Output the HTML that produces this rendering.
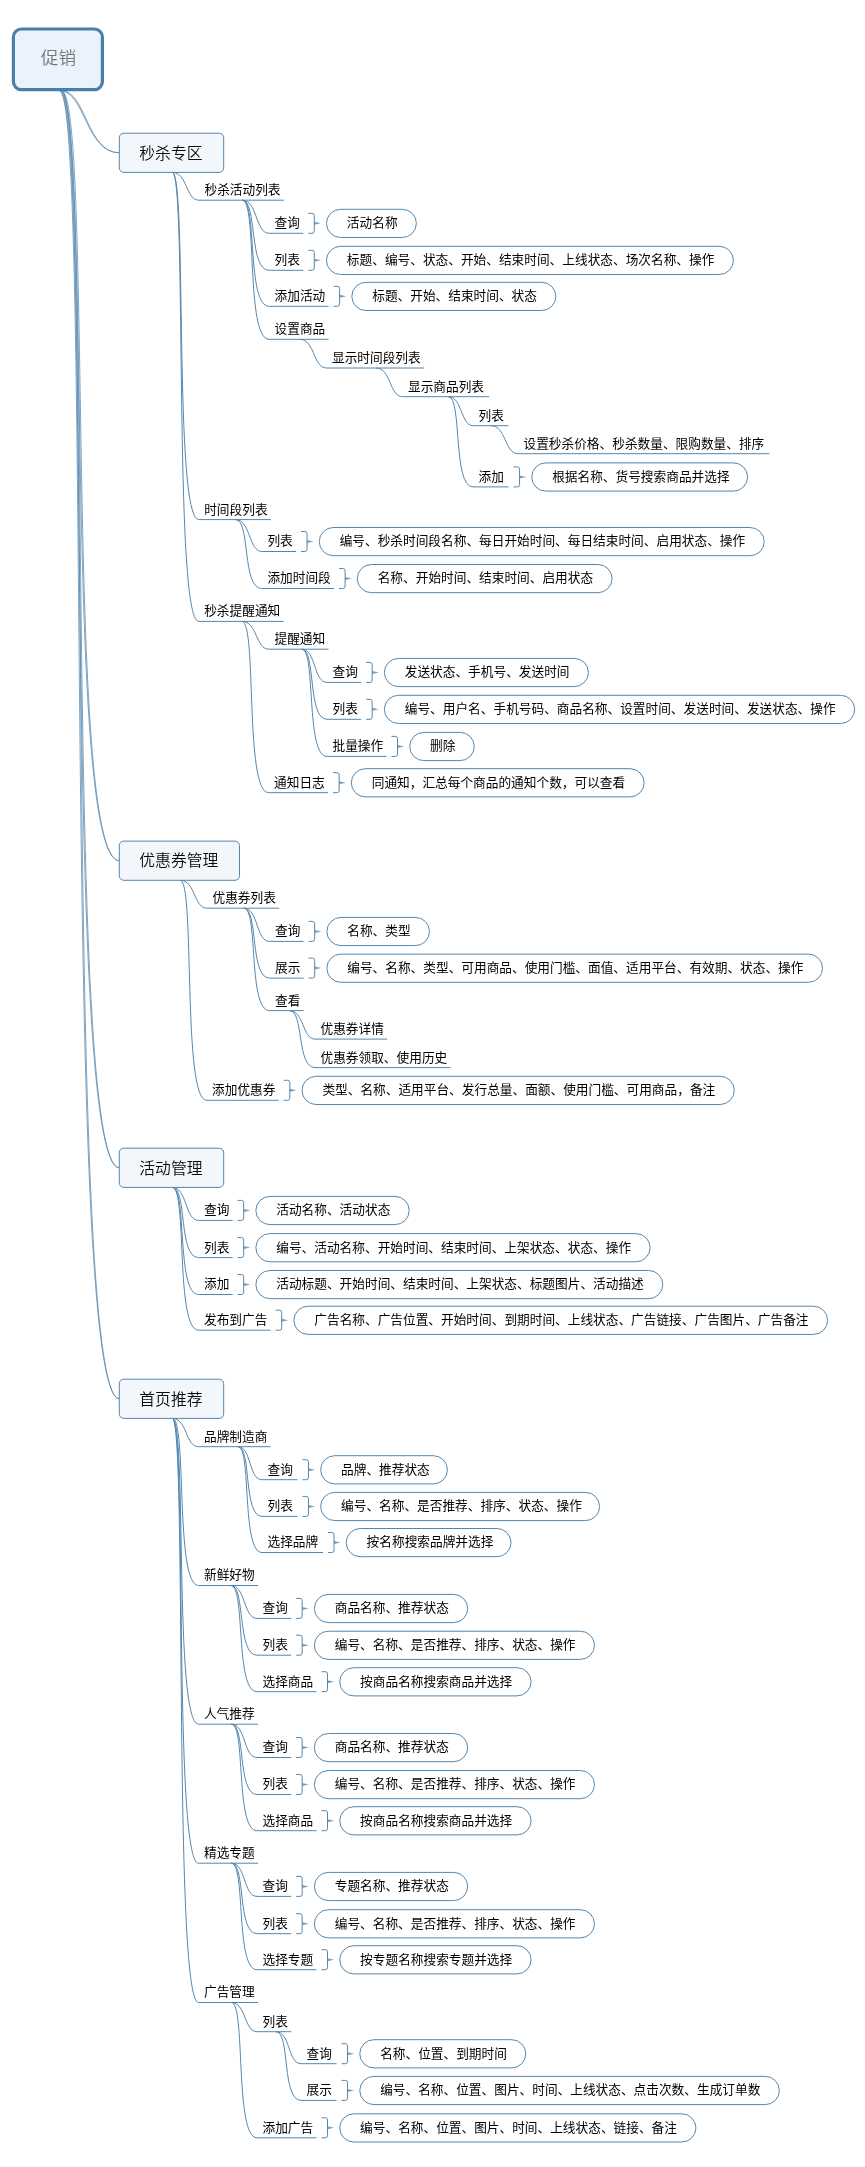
<!DOCTYPE html>
<html lang="zh-CN"><head><meta charset="utf-8"><title>促销</title>
<style>
html,body{margin:0;padding:0;background:#fff}
svg{display:block;will-change:transform}
text{font-family:"Liberation Sans", "Noto Sans CJK SC", sans-serif;font-size:12.68px;fill:#000}
.mt{font-size:15.8px;fill:#0a0a0a;font-weight:350}
.rt{font-size:17.6px;fill:#777;font-weight:350}
.ln{fill:none;stroke:#5486ad;stroke-width:1}
.wd{fill:#5486ad;stroke:none;fill-opacity:.8}
.rl{fill:none;stroke:#5486ad;stroke-width:.75}
.pill{fill:#fff;stroke:#5486ad;stroke-width:1}
.main{fill:#f3f7fc;stroke:#5486ad;stroke-width:1}
.root{fill:#eaf2fc;stroke:#4a7fa9;stroke-width:3.2}
</style></head><body>
<svg width="865" height="2167" viewBox="0 0 865 2167">
<path class="ln" d="M172.3 172.4C187.52 172.4 185.65 200.2 199 200.2H283.88M242.24 200.2C257.55 200.2 255.32 233.3 269.1 233.3H303.26M308.26 213.3H312.06Q314.26 213.3 314.26 215.5V231.1Q314.26 233.3 312.06 233.3H308.26M242.24 200.2C257.55 200.2 248.42 270.3 269.1 270.3H303.26M308.26 250.3H312.06Q314.26 250.3 314.26 252.5V268.1Q314.26 270.3 312.06 270.3H308.26M242.24 200.2C257.55 200.2 246.32 306.3 269.1 306.3H328.62M333.62 286.3H337.42Q339.62 286.3 339.62 288.5V304.1Q339.62 306.3 337.42 306.3H333.62M242.24 200.2C257.55 200.2 245.35 339.3 269.1 339.3H328.62M299.66 339.3C314.96 339.3 313.08 368 326.5 368H424.06M376.08 368C391.14 368 389.29 396.7 402.5 396.7H489.18M448.34 396.7C462.4 396.7 460.67 425.7 473 425.7H508.56M490.88 425.7C506.34 425.7 504.44 453.7 518 453.7H769.32M448.34 396.7C462.4 396.7 452.39 486.9 473 486.9H508.56M513.56 466.9H517.36Q519.56 466.9 519.56 469.1V484.7Q519.56 486.9 517.36 486.9H513.56M172.3 172.4C187.35 172.4 173.5 519.6 198.7 519.6H270.9M235.6 519.6C250.59 519.6 248.61 551.5 261.9 551.5H296.06M301.06 531.5H304.86Q307.06 531.5 307.06 533.7V549.3Q307.06 551.5 304.86 551.5H301.06M235.6 519.6C250.59 519.6 241.62 588.5 261.9 588.5H334.1M339.1 568.5H342.9Q345.1 568.5 345.1 570.7V586.3Q345.1 588.5 342.9 588.5H339.1M172.3 172.4C187.35 172.4 173.23 621.4 198.7 621.4H283.58M241.94 621.4C257.36 621.4 255.47 649.2 269 649.2H328.52M301.76 649.2C316.15 649.2 313.27 682.4 327 682.4H361.16M366.16 662.4H369.96Q372.16 662.4 372.16 664.6V680.2Q372.16 682.4 369.96 682.4H366.16M301.76 649.2C316.15 649.2 307.21 719.3 327 719.3H361.16M366.16 699.3H369.96Q372.16 699.3 372.16 701.5V717.1Q372.16 719.3 369.96 719.3H366.16M301.76 649.2C316.15 649.2 305.33 756.4 327 756.4H386.52M391.52 736.4H395.32Q397.52 736.4 397.52 738.6V754.2Q397.52 756.4 395.32 756.4H391.52M241.94 621.4C257.14 621.4 244.43 792.7 268.6 792.7H328.12M333.12 772.7H336.92Q339.12 772.7 339.12 774.9V790.5Q339.12 792.7 336.92 792.7H333.12M180.2 880.3C195.48 880.3 193.6 908.2 207 908.2H279.2M243.9 908.2C258.49 908.2 255.74 941.4 269.5 941.4H303.66M308.66 921.4H312.46Q314.66 921.4 314.66 923.6V939.2Q314.66 941.4 312.46 941.4H308.66M243.9 908.2C258.49 908.2 249.53 978.1 269.5 978.1H303.66M308.66 958.1H312.46Q314.66 958.1 314.66 960.3V975.9Q314.66 978.1 312.46 978.1H308.66M243.9 908.2C258.49 908.2 247.74 1010.6 269.5 1010.6H303.66M289.58 1010.6C304.07 1010.6 302.29 1039.1 315 1039.1H387.2M289.58 1010.6C304.07 1010.6 296.38 1067.6 315 1067.6H450.6M180.2 880.3C195.25 880.3 182.1 1100.3 206.6 1100.3H278.8M283.8 1080.3H287.6Q289.8 1080.3 289.8 1082.5V1098.1Q289.8 1100.3 287.6 1100.3H283.8M172.3 1187.4C187.23 1187.4 184.78 1220.4 198.5 1220.4H232.66M237.66 1200.4H241.46Q243.66 1200.4 243.66 1202.6V1218.2Q243.66 1220.4 241.46 1220.4H237.66M172.3 1187.4C187.23 1187.4 178.17 1257.6 198.5 1257.6H232.66M237.66 1237.6H241.46Q243.66 1237.6 243.66 1239.8V1255.4Q243.66 1257.6 241.46 1257.6H237.66M172.3 1187.4C187.23 1187.4 176.15 1294.5 198.5 1294.5H232.66M237.66 1274.5H241.46Q243.66 1274.5 243.66 1276.7V1292.3Q243.66 1294.5 241.46 1294.5H237.66M172.3 1187.4C187.23 1187.4 175.18 1330.2 198.5 1330.2H270.7M275.7 1310.2H279.5Q281.7 1310.2 281.7 1312.4V1328Q281.7 1330.2 279.5 1330.2H275.7M172.3 1418.4C187.23 1418.4 185.4 1446.7 198.5 1446.7H270.7M238 1446.7C251.68 1446.7 248.47 1479.7 262 1479.7H297.46M302.46 1459.7H306.26Q308.46 1459.7 308.46 1461.9V1477.5Q308.46 1479.7 306.26 1479.7H302.46M238 1446.7C251.68 1446.7 242.96 1516.4 262 1516.4H297.46M302.46 1496.4H306.26Q308.46 1496.4 308.46 1498.6V1514.2Q308.46 1516.4 306.26 1516.4H302.46M238 1446.7C251.68 1446.7 241.27 1552.5 262 1552.5H323.02M328.02 1532.5H331.82Q334.02 1532.5 334.02 1534.7V1550.3Q334.02 1552.5 331.82 1552.5H328.02M172.3 1418.4C187.23 1418.4 174.76 1585.5 198.5 1585.5H258.02M230.86 1585.5C245.76 1585.5 243.32 1618.4 257 1618.4H291.16M296.16 1598.4H299.96Q302.16 1598.4 302.16 1600.6V1616.2Q302.16 1618.4 299.96 1618.4H296.16M230.86 1585.5C245.76 1585.5 236.74 1655.2 257 1655.2H291.16M296.16 1635.2H299.96Q302.16 1635.2 302.16 1637.4V1653Q302.16 1655.2 299.96 1655.2H296.16M230.86 1585.5C245.76 1585.5 234.72 1691.7 257 1691.7H316.52M321.52 1671.7H325.32Q327.52 1671.7 327.52 1673.9V1689.5Q327.52 1691.7 325.32 1691.7H321.52M172.3 1418.4C187.23 1418.4 173.65 1724.2 198.5 1724.2H258.02M231.36 1724.2C245.97 1724.2 243.21 1757.5 257 1757.5H291.16M296.16 1737.5H299.96Q302.16 1737.5 302.16 1739.7V1755.3Q302.16 1757.5 299.96 1757.5H296.16M231.36 1724.2C245.97 1724.2 236.97 1794.5 257 1794.5H291.16M296.16 1774.5H299.96Q302.16 1774.5 302.16 1776.7V1792.3Q302.16 1794.5 299.96 1794.5H296.16M231.36 1724.2C245.97 1724.2 235.06 1830.7 257 1830.7H316.52M321.52 1810.7H325.32Q327.52 1810.7 327.52 1812.9V1828.5Q327.52 1830.7 325.32 1830.7H321.52M172.3 1418.4C187.23 1418.4 173.23 1863.2 198.5 1863.2H258.02M231.36 1863.2C245.97 1863.2 243.24 1896.4 257 1896.4H291.16M296.16 1876.4H299.96Q302.16 1876.4 302.16 1878.6V1894.2Q302.16 1896.4 299.96 1896.4H296.16M231.36 1863.2C245.97 1863.2 236.95 1933.7 257 1933.7H291.16M296.16 1913.7H299.96Q302.16 1913.7 302.16 1915.9V1931.5Q302.16 1933.7 299.96 1933.7H296.16M231.36 1863.2C245.97 1863.2 235.06 1969.7 257 1969.7H316.52M321.52 1949.7H325.32Q327.52 1949.7 327.52 1951.9V1967.5Q327.52 1969.7 325.32 1969.7H321.52M172.3 1418.4C187.23 1418.4 173.01 2002.5 198.5 2002.5H258.02M231.36 2002.5C245.97 2002.5 244.18 2031.7 257 2031.7H291.16M276.08 2031.7C290.28 2031.7 287.72 2063.7 301 2063.7H336.56M341.56 2043.7H345.36Q347.56 2043.7 347.56 2045.9V2061.5Q347.56 2063.7 345.36 2063.7H341.56M276.08 2031.7C290.28 2031.7 281.5 2100.4 301 2100.4H336.56M341.56 2080.4H345.36Q347.56 2080.4 347.56 2082.6V2098.2Q347.56 2100.4 345.36 2100.4H341.56M231.36 2002.5C245.97 2002.5 234.28 2137.8 257 2137.8H316.52M321.52 2117.8H325.32Q327.52 2117.8 327.52 2120V2135.6Q327.52 2137.8 325.32 2137.8H321.52"/>
<path class="wd" d="M314.26 221.8L320.86 223.3L314.26 224.8ZM314.26 258.8L320.86 260.3L314.26 261.8ZM339.62 294.8L346.22 296.3L339.62 297.8ZM519.56 475.4L526.16 476.9L519.56 478.4ZM307.06 540L313.66 541.5L307.06 543ZM345.1 577L351.7 578.5L345.1 580ZM372.16 670.9L378.76 672.4L372.16 673.9ZM372.16 707.8L378.76 709.3L372.16 710.8ZM397.52 744.9L404.12 746.4L397.52 747.9ZM339.12 781.2L345.72 782.7L339.12 784.2ZM314.66 929.9L321.26 931.4L314.66 932.9ZM314.66 966.6L321.26 968.1L314.66 969.6ZM289.8 1088.8L296.4 1090.3L289.8 1091.8ZM243.66 1208.9L250.26 1210.4L243.66 1211.9ZM243.66 1246.1L250.26 1247.6L243.66 1249.1ZM243.66 1283L250.26 1284.5L243.66 1286ZM281.7 1318.7L288.3 1320.2L281.7 1321.7ZM308.46 1468.2L315.06 1469.7L308.46 1471.2ZM308.46 1504.9L315.06 1506.4L308.46 1507.9ZM334.02 1541L340.62 1542.5L334.02 1544ZM302.16 1606.9L308.76 1608.4L302.16 1609.9ZM302.16 1643.7L308.76 1645.2L302.16 1646.7ZM327.52 1680.2L334.12 1681.7L327.52 1683.2ZM302.16 1746L308.76 1747.5L302.16 1749ZM302.16 1783L308.76 1784.5L302.16 1786ZM327.52 1819.2L334.12 1820.7L327.52 1822.2ZM302.16 1884.9L308.76 1886.4L302.16 1887.9ZM302.16 1922.2L308.76 1923.7L302.16 1925.2ZM327.52 1958.2L334.12 1959.7L327.52 1961.2ZM347.56 2052.2L354.16 2053.7L347.56 2055.2ZM347.56 2088.9L354.16 2090.4L347.56 2091.9ZM327.52 2126.3L334.12 2127.8L327.52 2129.3Z"/>
<path class="rl" d="M59.3 90.5C85.1 90.5 85.7 152.8 119.3 152.8M61.1 90.5C86.13 90.5 86.71 152.8 119.3 152.8M59.3 90.5C92.9 90.5 62.1 860.7 119.3 860.7M61.1 90.5C93.69 90.5 63.74 860.7 119.3 860.7M59.3 90.5C92.9 90.5 61.31 1167.8 119.3 1167.8M61.1 90.5C93.69 90.5 62.99 1167.8 119.3 1167.8M59.3 90.5C92.9 90.5 60.95 1398.8 119.3 1398.8M61.1 90.5C93.69 90.5 62.65 1398.8 119.3 1398.8"/>
<rect class="root" x="13.4" y="29" width="89" height="60.6" rx="8"/>
<text class="rt" x="40.8" y="64.3">促销</text>
<rect x="119.3" y="133.2" width="104.4" height="39.2" rx="4.5" class="main"/>
<text class="mt" x="139.3" y="158.5">秒杀专区</text>
<rect x="119.3" y="841.1" width="120.2" height="39.2" rx="4.5" class="main"/>
<text class="mt" x="139.3" y="866.4">优惠券管理</text>
<rect x="119.3" y="1148.2" width="104.4" height="39.2" rx="4.5" class="main"/>
<text class="mt" x="139.3" y="1173.5">活动管理</text>
<rect x="119.3" y="1379.2" width="104.4" height="39.2" rx="4.5" class="main"/>
<text class="mt" x="139.3" y="1404.5">首页推荐</text>
<rect x="326.46" y="209.3" width="89.92" height="28.2" rx="14.1" class="pill"/>
<rect x="326.46" y="246.3" width="406.92" height="28.2" rx="14.1" class="pill"/>
<rect x="351.82" y="282.3" width="204.04" height="28.2" rx="14.1" class="pill"/>
<rect x="531.76" y="462.9" width="215.82" height="28.2" rx="14.1" class="pill"/>
<rect x="319.26" y="527.5" width="444.96" height="28.2" rx="14.1" class="pill"/>
<rect x="357.3" y="564.5" width="254.76" height="28.2" rx="14.1" class="pill"/>
<rect x="384.36" y="658.4" width="204.04" height="28.2" rx="14.1" class="pill"/>
<rect x="384.36" y="695.3" width="470.32" height="28.2" rx="14.1" class="pill"/>
<rect x="409.72" y="732.4" width="64.56" height="28.2" rx="14.1" class="pill"/>
<rect x="351.32" y="768.7" width="292.8" height="28.2" rx="14.1" class="pill"/>
<rect x="326.86" y="917.4" width="102.6" height="28.2" rx="14.1" class="pill"/>
<rect x="326.86" y="954.1" width="495.68" height="28.2" rx="14.1" class="pill"/>
<rect x="302" y="1076.3" width="432.28" height="28.2" rx="14.1" class="pill"/>
<rect x="255.86" y="1196.4" width="153.32" height="28.2" rx="14.1" class="pill"/>
<rect x="255.86" y="1233.6" width="394.24" height="28.2" rx="14.1" class="pill"/>
<rect x="255.86" y="1270.5" width="406.92" height="28.2" rx="14.1" class="pill"/>
<rect x="293.9" y="1306.2" width="533.72" height="28.2" rx="14.1" class="pill"/>
<rect x="320.66" y="1455.7" width="126.76" height="28.2" rx="14.1" class="pill"/>
<rect x="320.66" y="1492.4" width="278.92" height="28.2" rx="14.1" class="pill"/>
<rect x="346.22" y="1528.5" width="164.8" height="28.2" rx="14.1" class="pill"/>
<rect x="314.36" y="1594.4" width="153.32" height="28.2" rx="14.1" class="pill"/>
<rect x="314.36" y="1631.2" width="280.12" height="28.2" rx="14.1" class="pill"/>
<rect x="339.72" y="1667.7" width="191.36" height="28.2" rx="14.1" class="pill"/>
<rect x="314.36" y="1733.5" width="153.32" height="28.2" rx="14.1" class="pill"/>
<rect x="314.36" y="1770.5" width="280.12" height="28.2" rx="14.1" class="pill"/>
<rect x="339.72" y="1806.7" width="191.36" height="28.2" rx="14.1" class="pill"/>
<rect x="314.36" y="1872.4" width="153.32" height="28.2" rx="14.1" class="pill"/>
<rect x="314.36" y="1909.7" width="280.12" height="28.2" rx="14.1" class="pill"/>
<rect x="339.72" y="1945.7" width="191.36" height="28.2" rx="14.1" class="pill"/>
<rect x="359.76" y="2039.7" width="166" height="28.2" rx="14.1" class="pill"/>
<rect x="359.76" y="2076.4" width="419.6" height="28.2" rx="14.1" class="pill"/>
<rect x="339.72" y="2113.8" width="356.2" height="28.2" rx="14.1" class="pill"/>
<text x="204.5" y="194.1">秒杀活动列表</text>
<text x="274.6" y="227.2">查询</text>
<text x="346.86" y="227.2">活动名称</text>
<text x="274.6" y="264.2">列表</text>
<text x="346.86" y="264.2">标题、编号、状态、开始、结束时间、上线状态、场次名称、操作</text>
<text x="274.6" y="300.2">添加活动</text>
<text x="372.22" y="300.2">标题、开始、结束时间、状态</text>
<text x="274.6" y="333.2">设置商品</text>
<text x="332" y="361.9">显示时间段列表</text>
<text x="408" y="390.6">显示商品列表</text>
<text x="478.5" y="419.6">列表</text>
<text x="523.5" y="447.6">设置秒杀价格、秒杀数量、限购数量、排序</text>
<text x="478.5" y="480.8">添加</text>
<text x="552.16" y="480.8">根据名称、货号搜索商品并选择</text>
<text x="204.2" y="513.5">时间段列表</text>
<text x="267.4" y="545.4">列表</text>
<text x="339.66" y="545.4">编号、秒杀时间段名称、每日开始时间、每日结束时间、启用状态、操作</text>
<text x="267.4" y="582.4">添加时间段</text>
<text x="377.7" y="582.4">名称、开始时间、结束时间、启用状态</text>
<text x="204.2" y="615.3">秒杀提醒通知</text>
<text x="274.5" y="643.1">提醒通知</text>
<text x="332.5" y="676.3">查询</text>
<text x="404.76" y="676.3">发送状态、手机号、发送时间</text>
<text x="332.5" y="713.2">列表</text>
<text x="404.76" y="713.2">编号、用户名、手机号码、商品名称、设置时间、发送时间、发送状态、操作</text>
<text x="332.5" y="750.3">批量操作</text>
<text x="430.12" y="750.3">删除</text>
<text x="274.1" y="786.6">通知日志</text>
<text x="371.72" y="786.6">同通知，汇总每个商品的通知个数，可以查看</text>
<text x="212.5" y="902.1">优惠券列表</text>
<text x="275" y="935.3">查询</text>
<text x="347.26" y="935.3">名称、类型</text>
<text x="275" y="972">展示</text>
<text x="347.26" y="972">编号、名称、类型、可用商品、使用门槛、面值、适用平台、有效期、状态、操作</text>
<text x="275" y="1004.5">查看</text>
<text x="320.5" y="1033">优惠券详情</text>
<text x="320.5" y="1061.5">优惠券领取、使用历史</text>
<text x="212.1" y="1094.2">添加优惠券</text>
<text x="322.4" y="1094.2">类型、名称、适用平台、发行总量、面额、使用门槛、可用商品，备注</text>
<text x="204" y="1214.3">查询</text>
<text x="276.26" y="1214.3">活动名称、活动状态</text>
<text x="204" y="1251.5">列表</text>
<text x="276.26" y="1251.5">编号、活动名称、开始时间、结束时间、上架状态、状态、操作</text>
<text x="204" y="1288.4">添加</text>
<text x="276.26" y="1288.4">活动标题、开始时间、结束时间、上架状态、标题图片、活动描述</text>
<text x="204" y="1324.1">发布到广告</text>
<text x="314.3" y="1324.1">广告名称、广告位置、开始时间、到期时间、上线状态、广告链接、广告图片、广告备注</text>
<text x="204" y="1440.6">品牌制造商</text>
<text x="267.5" y="1473.6">查询</text>
<text x="341.06" y="1473.6">品牌、推荐状态</text>
<text x="267.5" y="1510.3">列表</text>
<text x="341.06" y="1510.3">编号、名称、是否推荐、排序、状态、操作</text>
<text x="267.5" y="1546.4">选择品牌</text>
<text x="366.62" y="1546.4">按名称搜索品牌并选择</text>
<text x="204" y="1579.4">新鲜好物</text>
<text x="262.5" y="1612.3">查询</text>
<text x="334.76" y="1612.3">商品名称、推荐状态</text>
<text x="262.5" y="1649.1">列表</text>
<text x="334.76" y="1649.1">编号、名称、是否推荐、排序、状态、操作</text>
<text x="262.5" y="1685.6">选择商品</text>
<text x="360.12" y="1685.6">按商品名称搜索商品并选择</text>
<text x="204" y="1718.1">人气推荐</text>
<text x="262.5" y="1751.4">查询</text>
<text x="334.76" y="1751.4">商品名称、推荐状态</text>
<text x="262.5" y="1788.4">列表</text>
<text x="334.76" y="1788.4">编号、名称、是否推荐、排序、状态、操作</text>
<text x="262.5" y="1824.6">选择商品</text>
<text x="360.12" y="1824.6">按商品名称搜索商品并选择</text>
<text x="204" y="1857.1">精选专题</text>
<text x="262.5" y="1890.3">查询</text>
<text x="334.76" y="1890.3">专题名称、推荐状态</text>
<text x="262.5" y="1927.6">列表</text>
<text x="334.76" y="1927.6">编号、名称、是否推荐、排序、状态、操作</text>
<text x="262.5" y="1963.6">选择专题</text>
<text x="360.12" y="1963.6">按专题名称搜索专题并选择</text>
<text x="204" y="1996.4">广告管理</text>
<text x="262.5" y="2025.6">列表</text>
<text x="306.5" y="2057.6">查询</text>
<text x="380.16" y="2057.6">名称、位置、到期时间</text>
<text x="306.5" y="2094.3">展示</text>
<text x="380.16" y="2094.3">编号、名称、位置、图片、时间、上线状态、点击次数、生成订单数</text>
<text x="262.5" y="2131.7">添加广告</text>
<text x="360.12" y="2131.7">编号、名称、位置、图片、时间、上线状态、链接、备注</text>
</svg>
</body></html>
